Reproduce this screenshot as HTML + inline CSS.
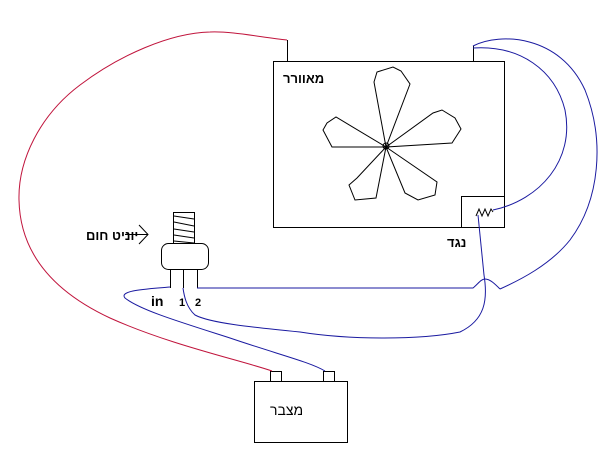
<!DOCTYPE html>
<html><head><meta charset="utf-8"><style>
html,body{margin:0;padding:0;background:#fff;width:609px;height:466px;overflow:hidden}
text{font-family:"Liberation Sans","Noto Sans CJK JP",sans-serif;font-weight:bold}
</style></head><body>
<svg width="609" height="466" viewBox="0 0 609 466" xmlns="http://www.w3.org/2000/svg">
<g fill="none" stroke="#000" stroke-width="1">
<rect x="273.5" y="61.5" width="231" height="166"/>
<rect x="461.5" y="196.5" width="43" height="31"/>
<line x1="287.5" y1="40" x2="287.5" y2="61"/>
<line x1="473.5" y1="46" x2="473.5" y2="61"/>
<polyline points="476,216 479,209 482,216 485,209 488,216 491,209 493,212"/>
<path d="M386,147 L374,82 L377,72 L393,67 L401,71 L410,84 Z"/>
<path d="M386,147 L433,113 L442,110 L455,118 L461,129 L452,143 Z"/>
<path d="M386,147 L437,182 L435,195 L418,200 L405,193 Z"/>
<path d="M386,147 L376,198 L355,200 L349,185 L357,178 Z"/>
<path d="M386,147 L332,147 L323,130 L327,123 L336,117 Z"/>
<circle cx="386" cy="146" r="3"/>
<rect x="173.5" y="212.5" width="21" height="31"/>
<line x1="174" y1="216" x2="194" y2="219"/><line x1="174" y1="222" x2="194" y2="226"/><line x1="174" y1="229" x2="194" y2="232"/><line x1="174" y1="235" x2="194" y2="238"/><line x1="174" y1="241" x2="194" y2="243"/>
<rect x="161.5" y="243.5" width="47" height="26" rx="7"/>
<line x1="170.5" y1="269" x2="170.5" y2="288"/>
<line x1="183.5" y1="269" x2="183.5" y2="288"/>
<line x1="197.5" y1="269" x2="197.5" y2="288"/>
<line x1="125" y1="234.5" x2="148" y2="234.5"/>
<polyline points="139,225 148,234.5 139,244"/>
<rect x="254.5" y="381.5" width="93" height="61"/>
<rect x="270.5" y="371.5" width="11" height="10"/>
<rect x="323.5" y="371.5" width="11" height="10"/>
</g>
<path d="M287,40 C260,37 230,31 210,32 C170,33 120,55 80,85 C40,115 18,160 19,200 C20,250 50,290 110,318 C170,345 240,360 272,371" fill="none" stroke="#c0143c" stroke-width="1"/>
<g fill="none" stroke="#1a1aa0" stroke-width="1">
<path d="M473,46 C500,32 560,35 585,90 C605,140 600,200 570,240 C550,265 520,280 500,289"/>
<path d="M473,48 C520,45 555,70 565,110 C575,160 540,200 493,210"/>
<path d="M197,288 L473,288 C478,284 481,279 485,279 C490,279 495,284 500,289"/>
<path d="M478,215 L484,275 C488,300 485,320 460,332 C420,340 350,340 300,332 C250,327 210,323 195,315 C186,307 184,295 183,288"/>
<path d="M170,287 C150,289 118,290 125,298 C140,310 180,322 230,338 C280,355 310,362 325,371"/>
</g>
<text x="283" y="83" font-size="13">מאוורר</text>
<text x="447" y="247" font-size="13">נגד</text>
<text x="86" y="240" font-size="13">יוניט חום</text>
<text x="270" y="415" font-size="14" style="font-weight:normal">מצבר</text>
<text x="151" y="306" font-size="14">in</text>
<text x="179" y="306" font-size="11">1</text>
<text x="195" y="306" font-size="11">2</text>
</svg>
</body></html>
